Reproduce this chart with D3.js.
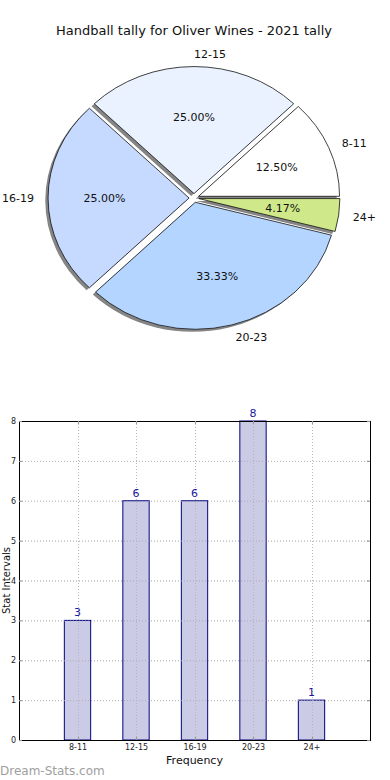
<!DOCTYPE html>
<html>
<head>
<meta charset="utf-8">
<script src="https://cdn.jsdelivr.net/npm/d3@7/dist/d3.min.js"></script>
<style>
  html, body { margin: 0; padding: 0; background: #fff; }
  svg { display: block; font-family: "DejaVu Sans", sans-serif; }
</style>
</head>
<body>
<svg id="chart" width="390" height="780"></svg>
<script>
// ---- data ----
const title = "Handball tally for Oliver Wines - 2021 tally";
const categories = ["8-11", "12-15", "16-19", "20-23", "24+"];
const counts = [3, 6, 6, 8, 1];
const pieColors = ["#ffffff", "#eaf1ff", "#c6d9ff", "#b4d5ff", "#cfe98a"];
const yTicks = [0, 1, 2, 3, 4, 5, 6, 7, 8];
const xLabel = "Frequency";
const yLabel = "Stat Intervals";
const watermark = "Dream-Stats.com";

const svg = d3.select("#chart");

// ---- title ----
svg.append("text").attr("x", 194).attr("y", 35).attr("text-anchor", "middle")
  .attr("font-size", 13).attr("fill", "#111").text(title);

// ---- pie ----
const cx = 194, cy = 198, rx = 141, ry = 127;
const explode = 0.035;
const total = d3.sum(counts);
const pie = d3.pie().sort(null).value(d => d)
  .startAngle(Math.PI / 2).endAngle(Math.PI / 2 - 2 * Math.PI);
const arcs = pie(counts);
const arc = d3.arc().innerRadius(0).outerRadius(rx);
const pg = svg.append("g").attr("transform", `translate(${cx},${cy}) scale(1,${ry / rx})`);

// matplotlib angle (ccw from 3 o'clock) of slice middle
function midTheta(a) { return Math.PI / 2 - (a.startAngle + a.endAngle) / 2; }

function offset(a) {
  const t = midTheta(a);
  return [explode * rx * Math.cos(t), -explode * rx * Math.sin(t)];
}

// shadows
pg.selectAll("path.shadow").data(arcs).join("path")
  .attr("class", "shadow")
  .attr("d", arc)
  .attr("transform", d => { const o = offset(d); return `translate(${o[0] - 2.8},${o[1] + 2.8})`; })
  .attr("fill", "#858585");

// slices
pg.selectAll("path.slice").data(arcs).join("path")
  .attr("class", "slice")
  .attr("d", arc)
  .attr("transform", d => { const o = offset(d); return `translate(${o[0]},${o[1]})`; })
  .attr("fill", (d, i) => pieColors[i])
  .attr("stroke", "#111")
  .attr("stroke-width", 0.8)
  .attr("vector-effect", "non-scaling-stroke");

// labels (screen coordinates)
arcs.forEach((a, i) => {
  const t = midTheta(a);
  const ox = explode * rx * Math.cos(t), oy = -explode * ry * Math.sin(t);
  // category label
  const lx = cx + ox + 1.1 * rx * Math.cos(t);
  const ly = cy + oy - 1.1 * ry * Math.sin(t);
  svg.append("text").attr("x", lx).attr("y", ly).attr("dy", "0.35em")
    .attr("text-anchor", Math.cos(t) > 0 ? "start" : "end")
    .attr("font-size", 11).attr("fill", "#111").text(categories[i]);
  // percentage
  const px = cx + ox + 0.6 * rx * Math.cos(t);
  const py = cy + oy - 0.6 * ry * Math.sin(t);
  svg.append("text").attr("x", px).attr("y", py).attr("dy", "0.35em")
    .attr("text-anchor", "middle").attr("font-size", 11).attr("fill", "#111")
    .text((counts[i] / total * 100).toFixed(2) + "%");
});

// ---- bar chart ----
const L = 19, R = 370, T = 421, B = 740;
const x = d3.scaleLinear().domain([-1, categories.length]).range([L, R]);
const y = d3.scaleLinear().domain([0, 8]).range([B, T]);
const bw = 0.45;
const bg = svg.append("g");

// grid
const gridStyle = s => s.attr("stroke", "#b8b8b8").attr("stroke-width", 1).attr("stroke-dasharray", "1,2");
bg.selectAll("line.gy").data(yTicks).join("line").attr("class", "gy")
  .attr("x1", L).attr("x2", R).attr("y1", d => y(d) + 0.5).attr("y2", d => y(d) + 0.5).call(gridStyle);
bg.selectAll("line.gx").data(categories).join("line").attr("class", "gx")
  .attr("x1", (d, i) => Math.round(x(i)) + 0.5).attr("x2", (d, i) => Math.round(x(i)) + 0.5)
  .attr("y1", T).attr("y2", B).call(gridStyle);

// bars
bg.selectAll("rect.bar").data(counts).join("rect").attr("class", "bar")
  .attr("x", (d, i) => x(i - bw / 2))
  .attr("width", x(bw) - x(0))
  .attr("y", d => y(d))
  .attr("height", d => y(0) - y(d))
  .attr("fill", "rgba(160,160,210,0.55)")
  .attr("stroke", "#000080").attr("stroke-width", 1);

// grid over bars (matplotlib grid drawn on top)
bg.selectAll("line.gx2").data(categories).join("line").attr("class", "gx2")
  .attr("x1", (d, i) => Math.round(x(i)) + 0.5).attr("x2", (d, i) => Math.round(x(i)) + 0.5)
  .attr("y1", d => T).attr("y2", B).attr("stroke", "#b8b8b8").attr("stroke-opacity", 0.7)
  .attr("stroke-width", 1).attr("stroke-dasharray", "1,2");
bg.selectAll("line.gy2").data(yTicks).join("line").attr("class", "gy2")
  .attr("x1", L).attr("x2", R).attr("y1", d => y(d) + 0.5).attr("y2", d => y(d) + 0.5)
  .attr("stroke", "#b8b8b8").attr("stroke-opacity", 0.7).attr("stroke-width", 1).attr("stroke-dasharray", "1,2");

// value labels
bg.selectAll("text.val").data(counts).join("text").attr("class", "val")
  .attr("x", (d, i) => x(i)).attr("y", d => y(d) - 4)
  .attr("text-anchor", "middle").attr("font-size", 11).attr("fill", "#1a1a9a")
  .text(d => d);

// frame
bg.append("rect").attr("x", L + 0.5).attr("y", T + 0.5).attr("width", R - L).attr("height", B - T)
  .attr("fill", "none").attr("stroke", "#000").attr("stroke-width", 1);

// ticks
const tickG = bg.append("g").attr("stroke", "#999").attr("stroke-width", 1.2);
yTicks.forEach(v => {
  tickG.append("line").attr("x1", L).attr("x2", L + 3).attr("y1", y(v) + 0.5).attr("y2", y(v) + 0.5);
  tickG.append("line").attr("x1", R - 3).attr("x2", R).attr("y1", y(v) + 0.5).attr("y2", y(v) + 0.5);
});
categories.forEach((c, i) => {
  const xx = Math.round(x(i)) + 0.5;
  tickG.append("line").attr("x1", xx).attr("x2", xx).attr("y1", T).attr("y2", T + 3);
  tickG.append("line").attr("x1", xx).attr("x2", xx).attr("y1", B - 3).attr("y2", B);
});

// tick labels
const yAxis = d3.axisLeft(y).tickValues(yTicks).tickSize(0).tickPadding(3).tickFormat(d3.format("d"));
const ya = bg.append("g").attr("transform", `translate(${L},0)`).call(yAxis);
ya.select(".domain").remove();
ya.selectAll("text").attr("font-size", 8).attr("font-family", "DejaVu Sans, sans-serif").attr("fill", "#222");

const xAxis = d3.axisBottom(x).tickValues(d3.range(categories.length)).tickSize(0).tickPadding(4)
  .tickFormat(i => categories[i]);
const xa = bg.append("g").attr("transform", `translate(0,${B})`).call(xAxis);
xa.select(".domain").remove();
xa.selectAll("text").attr("font-size", 8).attr("font-family", "DejaVu Sans, sans-serif").attr("fill", "#222");

// axis labels
svg.append("text").attr("x", (L + R) / 2).attr("y", 764).attr("text-anchor", "middle")
  .attr("font-size", 11).attr("fill", "#111").text(xLabel);
svg.append("text").attr("transform", `translate(10,${(T + B) / 2}) rotate(-90)`)
  .attr("text-anchor", "middle").attr("font-size", 10).attr("fill", "#111").text(yLabel);

// watermark
svg.append("text").attr("x", 0).attr("y", 775).attr("font-size", 12).attr("font-weight", "normal")
  .attr("fill", "#a0a0a0").text(watermark);
</script>
</body>
</html>
